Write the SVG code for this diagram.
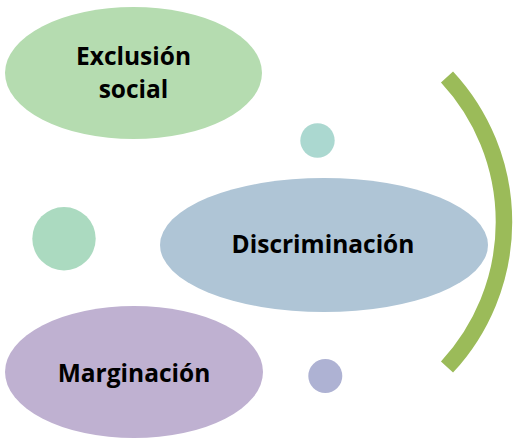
<svg xmlns="http://www.w3.org/2000/svg" width="518" height="448" viewBox="0 0 518 448">
  <style>
    .lbl { font-family: "Open Sans", Lato, "Liberation Sans", sans-serif; font-weight: bold; font-size: 24.5px; fill: #000; text-anchor: middle; }
  </style>
  <rect width="518" height="448" fill="#ffffff"/>
  <g id="decor">
    <circle id="dot-top" cx="317.5" cy="140.5" r="17.2" fill="#abd8d0"/>
    <circle id="dot-left" cx="64" cy="238.7" r="31.7" fill="#abdac0"/>
    <circle id="dot-bottom" cx="325.3" cy="376" r="17" fill="#aeb2d3"/>
    <path id="bracket" d="M447,77 A213,213 0 0 1 447,367" fill="none" stroke="#9bbb59" stroke-width="16.5"/>
  </g>
  <g id="node-exclusion">
    <ellipse cx="133.5" cy="73" rx="128.5" ry="66" fill="#b5dcb0"/>
    <text class="lbl" x="133.5" y="65">Exclusión</text>
    <text class="lbl" x="133.5" y="98">social</text>
  </g>
  <g id="node-discriminacion">
    <ellipse cx="324" cy="245" rx="164" ry="67" fill="#afc5d6"/>
    <text class="lbl" x="323" y="253">Discriminación</text>
  </g>
  <g id="node-marginacion">
    <ellipse cx="134" cy="372" rx="129" ry="66" fill="#bfb1d1"/>
    <text class="lbl" x="134" y="381.5">Marginación</text>
  </g>
  <g id="connectors"></g>
</svg>
